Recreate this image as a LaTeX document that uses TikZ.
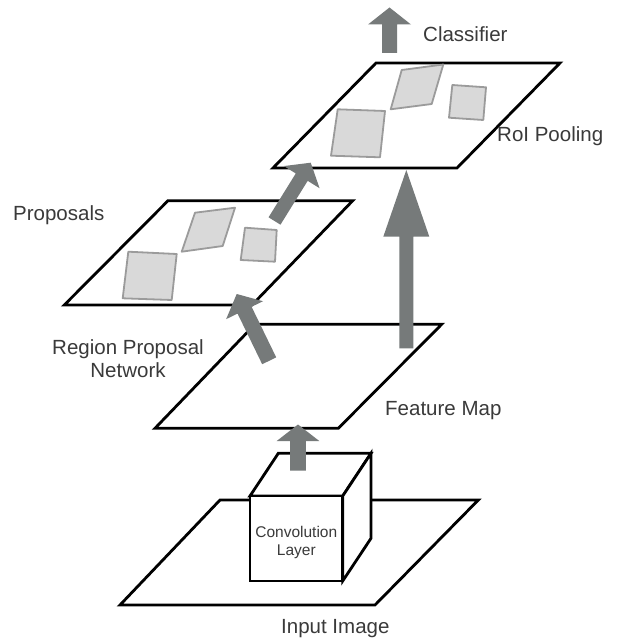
\documentclass[tikz,border=0pt]{standalone}
\usepackage{fontspec}
\setmainfont{Liberation Sans}
\usetikzlibrary{calc}
\definecolor{arrowgray}{RGB}{118,122,122}
\definecolor{boxfill}{RGB}{217,217,217}
\definecolor{boxline}{RGB}{155,155,155}
\definecolor{txt}{RGB}{58,58,58}
\tikzset{
  plane/.style={draw=black,line width=2.8pt,line join=miter,fill=white},
  roi/.style={draw=boxline,line width=1.8pt,fill=boxfill,line join=round},
  cube/.style={draw=black,line width=2.8pt,fill=white,line join=miter},
  lbl/.style={text=txt,inner sep=0pt,anchor=base west,font=\fontsize{20.5}{23.5}\selectfont},
  small/.style={text=txt,inner sep=0pt,align=center,font=\fontsize{15.5}{17.7}\selectfont},
}
% #1 tail, #2 tip, #3 half shaft, #4 half head, #5 head length
\newcommand\fatarrow[5]{%
  \coordinate (hb) at ($(#2)!#5!(#1)$);
  \fill[arrowgray] ($(#1)!#3!90:(#2)$) -- ($(hb)!#3!90:(#2)$) -- ($(hb)!#4!90:(#2)$) -- (#2)
     -- ($(hb)!#4!-90:(#2)$) -- ($(hb)!#3!-90:(#2)$) -- ($(#1)!#3!-90:(#2)$) -- cycle;}
\begin{document}
\begin{tikzpicture}[x=1pt,y=-1pt]
\useasboundingbox (0,0) rectangle (618,639);
\fill[white] (0,0) rectangle (618,639);
% planes
\draw[plane] (376,63) -- (560,63) -- (457,168) -- (273,168) -- cycle;
\draw[plane] (168,200.7) -- (352.7,200.7) -- (252,305) -- (64.3,305) -- cycle;
\draw[plane] (255,324.3) -- (441.7,324.3) -- (338.3,428.3) -- (155,428.3) -- cycle;
\draw[plane] (220,500) -- (478.3,500) -- (375,605) -- (120,605) -- cycle;
% RoI boxes (top)
\draw[roi] (337.7,109.3) -- (385,111) -- (380,157.3) -- (331,155.7) -- cycle;
\draw[roi] (401.7,70) -- (443.3,64.5) -- (431.7,104) -- (390.7,109.3) -- cycle;
\draw[roi] (452.3,85) -- (486,87.3) -- (483.3,120) -- (449,117.7) -- cycle;
% proposal boxes
\draw[roi] (128.3,251.7) -- (176.7,254) -- (171.7,300) -- (122.7,298.3) -- cycle;
\draw[roi] (195,212.7) -- (235,207.7) -- (222.7,246) -- (181.7,251.7) -- cycle;
\draw[roi] (245,227.7) -- (276.7,230) -- (275,261.7) -- (240.7,260) -- cycle;
% cube
\draw[cube] (250,496) -- (278.3,453.3) -- (371,453.3) -- (342.7,496) -- cycle;
\draw[cube] (342.7,496) -- (371,453.3) -- (371,538.3) -- (342.7,581) -- cycle;
\draw[cube] (250,496) rectangle (342.7,581);
% arrow end points
\coordinate (clsT) at (389.5,53);  \coordinate (clsH) at (389.5,7.5);
\coordinate (bigT) at (406.3,348.3); \coordinate (bigH) at (406.3,170);
\coordinate (rpnT) at (269.2,360.8); \coordinate (rpnH) at (236.7,294);
\coordinate (prT) at (274.5,221);  \coordinate (prH) at (310.7,162.7);
\coordinate (cvT) at (298,470.7);  \coordinate (cvH) at (298,424.5);
\fatarrow{clsT}{clsH}{7.5pt}{21.5pt}{17pt}
\fatarrow{bigT}{bigH}{7pt}{23pt}{66.7pt}
\fatarrow{rpnT}{rpnH}{7.8pt}{20.5pt}{18pt}
\fatarrow{prT}{prH}{7pt}{21pt}{17pt}
\fatarrow{cvT}{cvH}{7.8pt}{21.3pt}{16.5pt}
% labels
\node[lbl] (cls) at (423,41.5) {Classifier};
\node[lbl] (roip) at (497,141.7) {RoI Pooling};
\node[lbl] (prop) at (13,220) {Proposals};
\node[lbl,anchor=base] (rpn1) at (128,354) {Region Proposal};
\node[lbl,anchor=base] (rpn2) at (128,377.7) {Network};
\node[lbl] (fm) at (385,415) {Feature Map};
\node[small,anchor=base] (cv1) at (296.3,537.3) {Convolution};
\node[small,anchor=base] (cv2) at (296.3,555) {Layer};
\node[lbl] (inp) at (281,633.3) {Input Image};
\end{tikzpicture}
\end{document}
